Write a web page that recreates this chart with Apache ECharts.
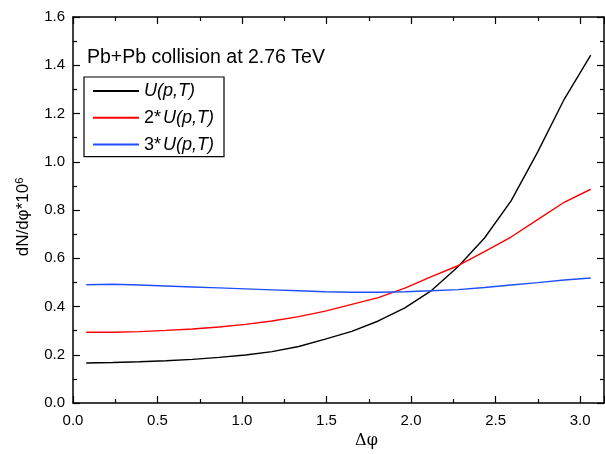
<!DOCTYPE html>
<html>
<head>
<meta charset="utf-8">
<script src="https://cdn.jsdelivr.net/npm/echarts@6/dist/echarts.min.js"></script>
<style>html,body{margin:0;padding:0;background:#fff;}#c{width:605px;height:454px;}</style>
</head>
<body>
<div id="c"></div>
<script>
var xValues = [0.0785, 0.2356, 0.3927, 0.5498, 0.7069, 0.8639, 1.0210, 1.1781, 1.3352, 1.4923,
               1.6493, 1.8064, 1.9635, 2.1206, 2.2777, 2.4347, 2.5918, 2.7489, 2.9060, 3.0631];
var seriesU1 = [0.166, 0.168, 0.171, 0.175, 0.181, 0.189, 0.199, 0.213, 0.234, 0.265,
                0.297, 0.340, 0.394, 0.466, 0.565, 0.684, 0.838, 1.040, 1.259, 1.442];
var seriesU2 = [0.293, 0.293, 0.296, 0.301, 0.307, 0.315, 0.326, 0.340, 0.358, 0.381,
                0.409, 0.437, 0.476, 0.524, 0.569, 0.627, 0.688, 0.760, 0.832, 0.886];
var seriesU3 = [0.490, 0.492, 0.489, 0.485, 0.481, 0.477, 0.473, 0.469, 0.465, 0.461,
                0.459, 0.459, 0.461, 0.465, 0.470, 0.479, 0.489, 0.499, 0.510, 0.518];
var seriesNames = ['U1', 'U2', 'U3'];
var titleText = 'Pb+Pb collision at 2.76 TeV';

function pairs(ys) { return xValues.map(function (x, i) { return [x, ys[i]]; }); }

var font = 'Liberation Sans, Arial, sans-serif';
var chart = echarts.init(document.getElementById('c'), null, {renderer: 'canvas'});

var xCommon = {
  type: 'value', min: 0, max: Math.PI, interval: 0.5,
  axisLine: {show: true, onZero: false, lineStyle: {color: '#000', width: 1.5}},
  axisTick: {show: true, inside: true, length: 7, lineStyle: {color: '#000', width: 1.2}},
  minorTick: {show: true, splitNumber: 2, length: 4, lineStyle: {color: '#000', width: 1.2}},
  splitLine: {show: false}
};
var yCommon = {
  type: 'value', min: 0, max: 1.6, interval: 0.2,
  axisLine: {show: true, onZero: false, lineStyle: {color: '#000', width: 1.5}},
  axisTick: {show: true, inside: true, length: 7, lineStyle: {color: '#000', width: 1.2}},
  minorTick: {show: true, splitNumber: 2, length: 4, lineStyle: {color: '#000', width: 1.2}},
  splitLine: {show: false}
};

var legendRich = {
  i: {fontStyle: 'italic', fontSize: 18, lineHeight: 20, fontFamily: font, color: '#000'},
  n: {fontSize: 18, lineHeight: 20, fontFamily: font, color: '#000', padding: [0, 2, 0, 0]}
};

chart.setOption({
  animation: false,
  backgroundColor: '#fff',
  grid: {left: 73, right: 1, top: 17, bottom: 47},
  title: {
    text: titleText, left: 82, top: 43,
    textStyle: {fontFamily: font, fontSize: 19.5, fontWeight: 'normal', color: '#000'}
  },
  legend: {
    orient: 'vertical', left: 84, top: 77,
    padding: [4, 10, 2, 8],
    borderColor: '#000', borderWidth: 1.2,
    itemWidth: 46, itemHeight: 14, itemGap: 6.8,
    itemStyle: {opacity: 0},
    data: seriesNames,
    formatter: function (n) {
      if (n === 'U1') return '{i|U(p,T)}';
      if (n === 'U2') return '{n|2*}{i|U(p,T)}';
      return '{n|3*}{i|U(p,T)}';
    },
    textStyle: {fontFamily: font, fontSize: 18, lineHeight: 20, color: '#000', rich: legendRich}
  },
  xAxis: [
    Object.assign({}, xCommon, {
      position: 'bottom',
      name: 'Δφ', nameLocation: 'middle', nameGap: 30,
      nameTextStyle: {fontFamily: 'DejaVu Serif, serif', fontSize: 16, color: '#000', padding: [0, 0, 0, 56]},
      axisLabel: {show: true, margin: 10, color: '#000', fontFamily: font, fontSize: 15,
        showMaxLabel: false,
        formatter: function (v) { return (Math.abs(v / 0.5 - Math.round(v / 0.5)) < 1e-6) ? v.toFixed(1) : ''; }}
    }),
    Object.assign({}, xCommon, {position: 'top', axisLabel: {show: false}})
  ],
  yAxis: [
    Object.assign({}, yCommon, {
      position: 'left',
      name: '{a|dN/dφ*10}{s|6}', nameLocation: 'middle', nameGap: 40, nameRotate: 90,
      nameTextStyle: {fontFamily: font, fontSize: 17, color: '#000', padding: [0, 14, 0, 0],
        rich: {a: {fontFamily: font, fontSize: 17, color: '#000'},
               s: {fontFamily: font, fontSize: 11, color: '#000', verticalAlign: 'top', padding: [0, 0, 8, 0]}}},
      axisLabel: {show: true, margin: 8, color: '#000', fontFamily: font, fontSize: 15,
        formatter: function (v) { return v.toFixed(1); }}
    }),
    Object.assign({}, yCommon, {position: 'right', axisLabel: {show: false}})
  ],
  series: [
    {name: 'U1', type: 'line', data: pairs(seriesU1), symbol: 'none', smooth: false,
     lineStyle: {color: '#000000', width: 1.4}, itemStyle: {color: '#000000'}},
    {name: 'U2', type: 'line', data: pairs(seriesU2), symbol: 'none', smooth: false,
     lineStyle: {color: '#ff0000', width: 1.4}, itemStyle: {color: '#ff0000'}},
    {name: 'U3', type: 'line', data: pairs(seriesU3), symbol: 'none', smooth: false,
     lineStyle: {color: '#1f4fff', width: 1.4}, itemStyle: {color: '#1f4fff'}}
  ]
});
</script>
</body>
</html>
